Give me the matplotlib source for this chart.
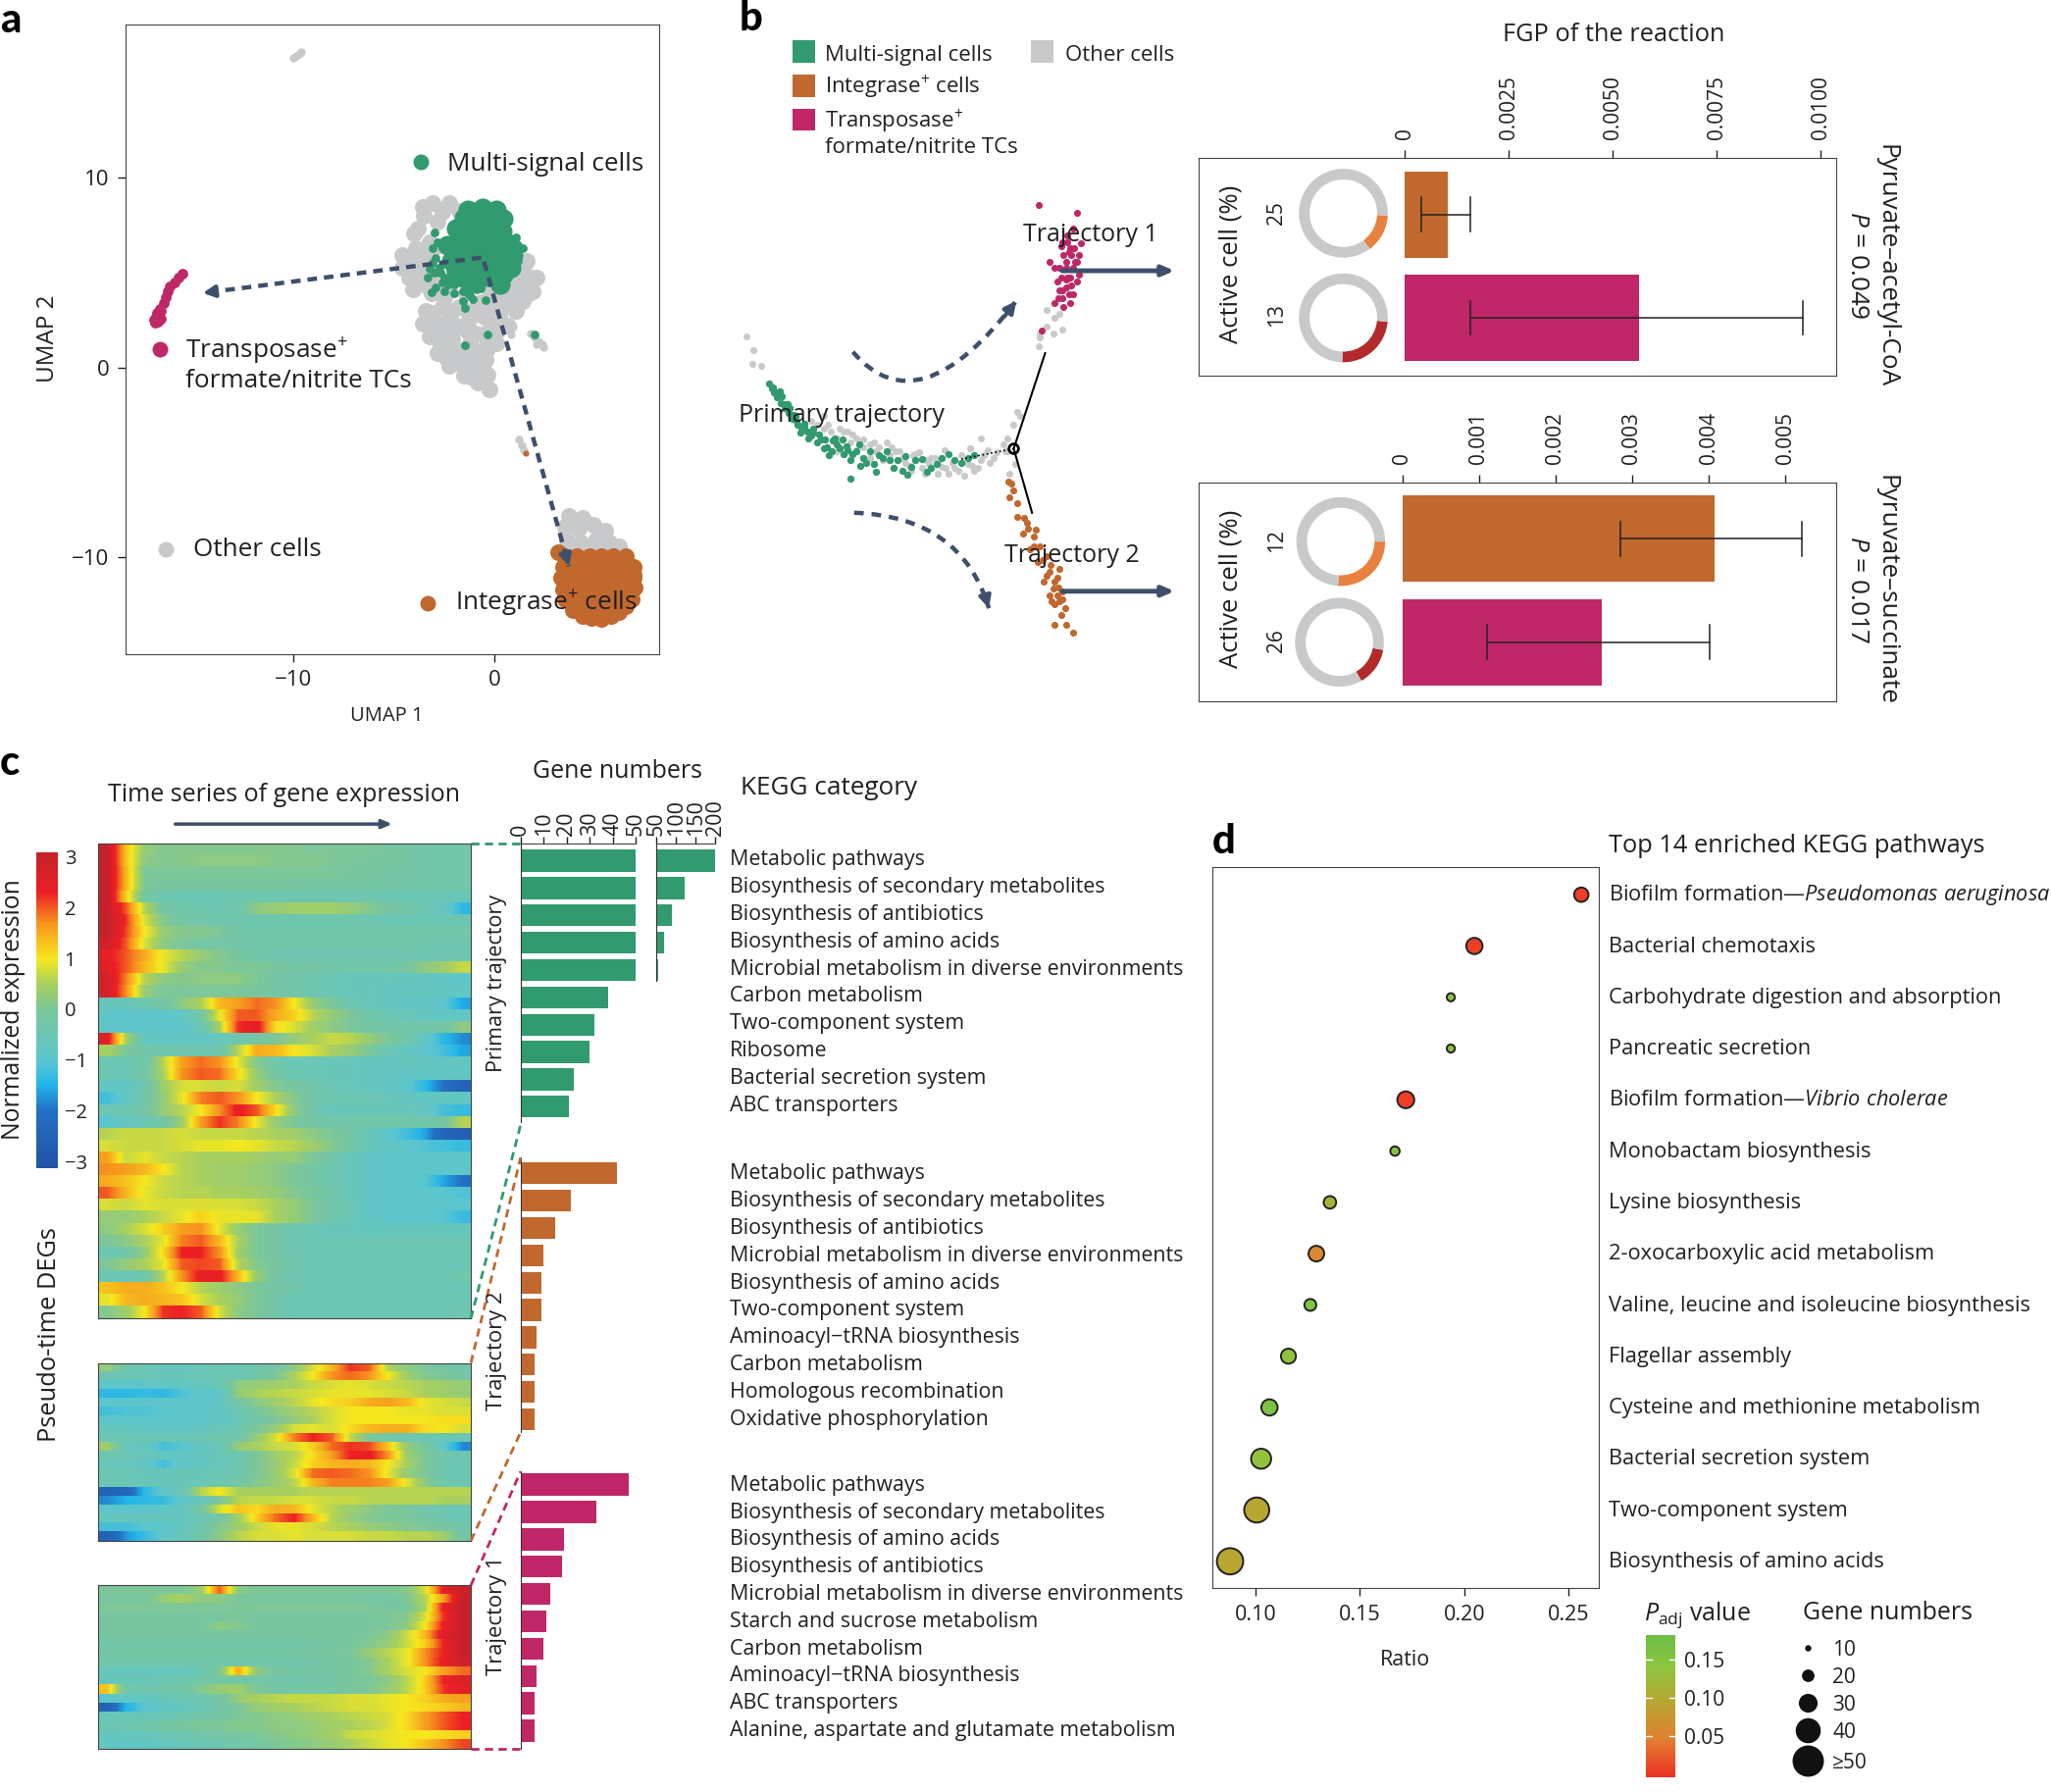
import numpy as np
import matplotlib
matplotlib.use('Agg')
import matplotlib.pyplot as plt
from matplotlib.colors import LinearSegmentedColormap, Normalize
from matplotlib.cm import ScalarMappable
from matplotlib.path import Path
from matplotlib.patches import PathPatch, Rectangle

plt.rcParams['font.family'] = ['Open Sans', 'DejaVu Sans']
plt.rcParams['mathtext.fontset'] = 'custom'
plt.rcParams['mathtext.rm'] = 'Open Sans'
plt.rcParams['mathtext.it'] = 'Open Sans:italic'
plt.rcParams['mathtext.default'] = 'regular'
plt.rcParams['text.color'] = '#231f20'
plt.rcParams['axes.edgecolor'] = '#444444'
plt.rcParams['xtick.color'] = '#231f20'
plt.rcParams['ytick.color'] = '#231f20'

GREEN = '#319a6e'
ORANGE = '#c0682e'
MAGENTA = '#bf2768'
GRAY = '#c8c9cb'
NAVY = '#3d4f6b'

# panel a, UMAP coordinates
gray_x = [-3.57, -3.07, -2.24, -1.74, -2.57, -3.49, -3.82, -2.82, -3.99, -4.57, -3.9, -3.24, -4.57, -3.82, -4.07, -4.24,
          -3.57, -2.9, -2.2, -3.1, -2.5, 2.08, 1.91, 1.58, 1.41, 1.08, 0.75, 0.42, -0.08, 1.3, 0.9, -0.5, -3.4, -3.57,
          -3.24, -2.82, -2.24, -1.5, -0.83, -0.25, -0.33, -0.42, 0.08, 0.66, -0.08, -0.91, -1.74, -2.57, -2.57, -1.74,
          -0.91, -2.41, -1.58, -0.91, -1.58, -0.83, -3.0, -2.2, -1.3, -0.5, 0.2, -2.9, -2.1, -1.2, -0.4, -2.0, -1.2, -0.6,
          -3.4, -2.9, -3.2, -2.6, -3.0, -1.4, -0.8, -0.2, 0.4, 1.0, 1.5, 1.7, 0.9, 0.3, 0.3, -0.4, -1.3, -2.1, -3.1, -3.2,
          -2.8, -2.2, -1.3, -0.5, 0.0, -2.7, -2.0, -1.1, -0.4, -2.4, -1.9, -1.2, -0.6, -1.2, 1.7, 1.2, -3.9, -3.3, -4.4,
          -4.2, -3.7]
gray_y = [8.45, 8.7, 8.7, 8.27, 8.19, 8.01, 7.32, 7.67, 7.06, 5.94, 6.29, 6.63, 5.25, 5.42, 4.13, 4.73,
          4.56, 5.0, 4.4, 3.9, 3.7, 4.73, 4.04, 5.6, 3.52, 3.0, 4.56, 3.7, 3.18, 4.7, 3.7, 3.5, 3.0, 2.31,
          1.62, 0.76, 0.07, -0.45, -0.79, -1.14, -0.36, 0.41, 1.28, 2.23, 2.31, 2.83, 3.18, 3.18, 2.14, 2.14,
          1.8, 1.1, 0.93, 0.41, 0.07, -0.28, 2.6, 2.7, 2.4, 2.7, 2.0, 1.6, 1.5, 1.3, 1.2, 0.4, -0.2, 0.0,
          5.9, 6.4, 5.0, 3.8, 4.4, 3.9, 3.4, 4.1, 4.4, 4.2, 4.3, 3.9, 3.2, 3.0, 2.5, 2.9, 3.0, 3.0, 2.9, 2.3,
          1.9, 1.8, 1.9, 1.8, 1.8, 1.2, 0.8, 0.9, 0.9, 0.5, 0.3, 0.4, -0.6, -0.5, 4.8, 5.0, 4.9, 4.3, 5.6,
          5.2, 6.0]
gray_small_x = [-10.0, -9.85, -9.7, -9.6, 1.8, 2.0, 2.2, 2.4, 2.45, 2.1, 1.2, 1.35, 1.45, 0.91, 0.83]
gray_small_y = [16.35, 16.45, 16.55, 16.65, 1.8, 1.6, 1.4, 1.25, 1.05, 1.25, -3.8, -4.1, -4.35, 2.18, 1.76]
gray_low_x = [3.7, 4.4, 3.5, 4.2, 4.9, 5.5, 3.6, 4.3, 5.0, 5.7, 6.2, 4.0, 5.0, 6.0]
gray_low_y = [-7.8, -7.9, -8.4, -8.5, -8.3, -8.6, -9.1, -9.2, -9.1, -9.2, -9.4, -9.6, -9.6, -9.7]

green_x = [-1.08, -0.08, 0.42, -1.91, -0.91, 0.08, -2.33, -1.41, -0.42, 0.58, 0.91, -2.16, -1.25, -0.25, 0.58, -1.58,
           -0.75, 0.08, 0.83, -0.6, -1.5, -0.5, -1.7, -1.0, 0.3, -1.7, -0.9, -0.2, 0.4, -1.8, -1.1, -0.4, 0.4, 0.5, 0.0,
           -0.9, -1.5, -0.4, -1.3, -0.6, 0.1, 0.9, 0.3, -1.2, -1.9]
green_y = [8.19, 8.19, 7.84, 7.32, 7.32, 7.15, 6.46, 6.46, 6.29, 6.63, 5.94, 5.6, 5.6, 5.42, 5.6, 4.73,
           4.73, 5.08, 5.25, 7.9, 7.9, 6.9, 6.0, 5.0, 6.2, 6.9, 6.7, 6.9, 7.2, 5.4, 5.1, 4.8, 5.0, 5.6, 6.0,
           6.0, 5.9, 7.6, 8.3, 8.4, 8.3, 6.3, 4.4, 4.5, 4.9]
green_small_x = [-2.99, -2.82, -3.07, -2.91, -3.07, -2.74, -3.32, -2.99, -2.49, -2.91, -3.11, -2.49, -1.99, -1.58, -1.08,
                 -1.58, -1.45, -0.42, -0.71, 0.08, -0.33, -1.46, 1.41, 1.08, 1.16, 0.66, -2.3, -1.9, -2.6, -1.3, 2.0,
                 -2.7, -2.2, -2.0, -1.2, -3.2, -0.9]
green_small_y = [7.15, 6.63, 6.29, 5.77, 5.51, 5.25, 4.73, 4.99, 4.73, 4.21, 3.96, 4.04, 4.39, 4.04, 3.61,
                 3.49, 3.14, 3.56, 4.18, 4.56, 1.74, 1.19, 6.32, 6.89, 5.6, 4.73, 4.4, 4.7, 4.5, 3.9, 1.75,
                 5.0, 5.1, 3.9, 3.8, 5.2, 4.1]

magenta_x = [-15.5, -15.7, -15.9, -16.1, -16.2, -16.3, -16.4, -16.6, -16.55, -16.8, -16.9, -16.7, -16.55, -16.75, -16.85]
magenta_y = [4.95, 4.75, 4.5, 4.3, 4.0, 3.7, 3.4, 3.1, 3.0, 2.7, 2.5, 2.4, 2.6, 2.9, 2.35]

orange_x = [3.5, 4.1, 4.7, 5.3, 5.9, 6.5, 3.4, 4.0, 4.6, 5.2, 5.8, 6.4, 6.9, 3.3, 3.9, 4.5, 5.1, 5.7, 6.3, 6.9, 6.9,
            3.4, 3.8, 4.4, 5.0, 5.6, 6.2, 6.8, 6.95, 3.5, 4.0, 4.6, 5.2, 5.8, 6.4, 6.8, 3.9, 4.4, 5.0, 5.6, 6.2, 6.5,
            4.4, 4.8, 5.3, 5.8, 3.15]
orange_y = [-9.95, -9.95, -9.95, -9.95, -9.95, -9.95, -10.5, -10.5, -10.5, -10.5, -10.5, -10.5, -10.5, -11.1, -11.1,
            -11.1, -11.1, -11.1, -11.1, -11.1, -10.9, -11.7, -11.7, -11.7, -11.7, -11.7, -11.7, -11.7, -11.6, -12.2,
            -12.3, -12.3, -12.3, -12.3, -12.3, -12.2, -12.8, -12.9, -12.9, -12.9, -12.9, -12.6, -13.1, -13.2, -13.25,
            -13.1, -9.75]
orange_small_x = [1.57]
orange_small_y = [-4.5]

# panel b, cells along the trajectories
traj_green_x = [590, 592, 594, 597, 600, 603, 606, 610, 613, 617, 620, 625, 628, 632, 636, 640, 645, 650, 655, 660, 668,
                672, 680, 690, 700, 712, 720, 730, 745, 596, 602, 608, 615, 622, 630, 638, 648, 658, 650, 694,
                588, 591, 595, 598, 601, 604, 607, 609, 612, 615, 618, 622, 626, 631, 634, 637, 642, 644, 647, 652,
                657, 662, 665, 670, 675, 678, 683, 686, 692, 697, 705, 709, 716, 725, 735, 740]
traj_green_y = [297, 300, 304, 308, 312, 316, 320, 325, 327, 330, 333, 338, 336, 342, 345, 340, 347, 352, 345, 350, 355,
                348, 352, 360, 352, 358, 350, 352, 348, 299, 309, 318, 324, 331, 343, 335, 344, 356, 366, 363,
                293, 296, 300, 303, 309, 312, 317, 322, 331, 326, 335, 328, 332, 336, 348, 337, 343, 336, 341, 347,
                340, 354, 345, 361, 350, 345, 358, 352, 349, 357, 351, 361, 355, 347, 354, 350]
traj_gray_x = [571, 576, 575, 582, 620, 630, 640, 650, 660, 670, 680, 690, 700, 710, 720, 730, 740, 750, 760, 770, 645,
               655, 665, 675, 685, 695, 705, 715, 725, 735, 745, 755, 775, 780, 769, 794, 800, 810, 805, 795, 800, 812,
               806, 795, 742, 750, 770, 778, 772, 776, 633, 648, 678, 700, 722,
               625, 635, 642, 652, 660, 668, 672, 682, 688, 692, 698, 703, 708, 712, 718, 723, 728, 733, 738, 743, 748,
               752, 757, 762, 767, 697, 707, 717, 737, 655, 665, 640, 630]
traj_gray_y = [257, 268, 278, 280, 322, 328, 335, 338, 342, 345, 348, 350, 352, 355, 357, 358, 355, 352, 350, 345, 330,
               335, 340, 352, 345, 356, 358, 350, 362, 348, 360, 344, 325, 318, 345, 265, 250, 240, 255, 255, 237, 252,
               243, 258, 343, 335, 335, 315, 362, 355, 325, 330, 338, 347, 344,
               325, 330, 328, 332, 336, 338, 342, 342, 345, 354, 348, 346, 352, 350, 352, 358, 354, 360, 352, 356, 358,
               348, 354, 346, 340, 360, 362, 362, 364, 344, 350, 345, 318]
traj_magenta_x = [794, 823, 820, 812, 818, 825, 815, 820, 810, 825, 808, 815, 820, 812, 818, 806, 822, 816, 810, 813, 806,
                  802, 796, 826, 819, 816, 811, 816, 821, 817, 823, 813, 818, 815, 823, 811, 819, 812, 817, 809, 815]
traj_magenta_y = [157, 163, 175, 185, 190, 195, 200, 205, 205, 210, 215, 220, 225, 228, 232, 232, 200, 212, 222, 235, 205,
                  200, 253, 186, 195, 180, 188, 185, 190, 193, 200, 195, 212, 205, 215, 212, 218, 222, 225, 228, 214]
traj_orange_x = [771, 775, 772, 778, 785, 782, 790, 787, 793, 800, 805, 798, 803, 810, 806, 815, 820, 795, 800, 808, 812,
                 792, 802, 806, 811, 783, 786, 790, 797, 802, 806, 809, 812, 808, 804, 814, 810, 778, 773]
traj_orange_y = [368, 375, 380, 385, 400, 408, 410, 420, 430, 440, 450, 445, 432, 460, 478, 478, 484, 418, 425, 442, 452,
                 405, 455, 462, 470, 396, 404, 418, 428, 437, 445, 449, 458, 455, 460, 465, 435, 395, 370]

fgp_ticks_top = [0, 0.0025, 0.005, 0.0075, 0.01]
fgp_labels_top = ['0', '0.0025', '0.0050', '0.0075', '0.0100']
fgp_values_top = [0.00104, 0.00563]
fgp_low_top = [0.0004, 0.00157]
fgp_high_top = [0.00157, 0.00956]
fgp_ticks_low = [0, 0.001, 0.002, 0.003, 0.004, 0.005]
fgp_labels_low = ['0', '0.001', '0.002', '0.003', '0.004', '0.005']
fgp_values_low = [0.00408, 0.0026]
fgp_low_low = [0.00285, 0.00111]
fgp_high_low = [0.00522, 0.00401]
active_arcs = [14, 24, 26, 14]
arc_starts = [-3, -5, 0, -10]
active_labels = ['25', '13', '12', '26']

# panel c, heatmaps in tenths of normalized expression
heat_primary = [
    [30,13, 3, 1, 1, 1, 1, 1, 1, 1, 1, 0, 0, 0, 0,-1,-2,-3,-3,-3],
    [30,13, 2, 1, 1, 2, 2, 2, 2, 1, 1, 1, 0, 0,-1,-1,-2,-3,-3,-3],
    [30,14, 0, 0, 0, 0, 0, 0, 0, 0, 0, 0, 0,-1,-1,-2,-2,-3,-3,-3],
    [30,14, 0,-1,-1,-1,-1,-1,-1,-1,-1,-2,-2,-2,-2,-2,-3,-3,-3,-3],
    [30,12,-2,-4,-5,-5,-5,-4,-4,-4,-4,-4,-4,-4,-4,-5,-5,-5,-5,-6],
    [30,20, 6,-2,-3,-4,-4,-3, 2, 3, 4, 4, 4, 3, 1,-1,-3,-4,-7,-14],
    [30,22, 8, 1,-2,-3,-4,-4,-4,-4,-4,-4,-4,-4,-4,-5,-5,-5,-5,-5],
    [30,21,10, 3, 1, 1, 0,-3,-3,-3,-3,-3,-3,-3,-3,-3,-3,-3,-3,-3],
    [28,20, 8, 2, 0,-2,-2,-3,-3,-3,-3,-3,-3,-3,-3,-3,-3,-4,-4,-4],
    [24,20,15, 9, 6, 3, 1,-1,-3,-4,-4,-4,-4,-4,-4,-4,-4,-4,-4,-4],
    [25,20,14, 9, 3, 1, 1, 0, 0,-1,-2,-2,-3,-3,-3,-3,-1, 2, 4, 7],
    [28,18, 6, 2, 1, 2, 2, 2, 0,-2,-3,-4,-5,-6,-6,-6,-7,-7,-8,-9],
    [28,17, 3, 0, 0, 0, 0, 0,-1,-2,-3,-4,-5,-6,-6,-7,-7,-7,-8,-8],
    [-6,-6,-4,-2, 2, 5,14,16,19,17,10, 3, 0,-4,-6,-7,-8,-8,-9,-16],
    [-9,-9,-9,-9,-8,-2, 9,20,20,15,12, 6, 3, 0,-3,-5,-6,-7,-8,-8],
    [-9,-9,-9,-9,-9,-5, 5,22,25,11, 8, 4, 2, 0,-2,-3,-3,-3,-2, 2],
    [25, 5,-7,-8,-8,-8,-6,-4,-2, 0, 3, 5, 7, 6, 3, 0,-3,-8,-14,-18],
    [ 5, 0,-3,-4,-4,-4,-4, 6,15,14,10, 8, 5, 3, 0,-5,-7,-9,-12,-16],
    [-5,-5,-3, 6,16,19,17, 9, 1,-3,-5,-5,-6,-6,-7,-7,-7,-7,-8,-8],
    [-5,-5,-2, 5,17,20,19,11, 3,-2,-5,-5,-6,-6,-7,-7,-8,-8,-8,-8],
    [-8,-8,-4, 4, 8, 8, 7, 8, 4, 1,-1,-3,-5,-6,-7,-8,-9,-14,-20,-25],
    [-12,-8,-3, 3, 9,18,20,17,10, 5, 1,-3,-4,-5,-5,-6,-7,-8,-8,-8],
    [-5,-5,-2, 3, 6,10,17,24,20,11, 2,-3,-6,-6,-6,-6,-6,-7,-12,-13],
    [-10,-7,-5,-2, 4,16,22,18, 9, 3, 0,-2,-3,-3,-3,-3,-3,-3,-2, 6],
    [ 6, 7, 7, 7, 8, 7, 7, 7, 6, 5, 4, 2, 0,-2,-6,-9,-12,-16,-24,-26],
    [ 8, 7, 7, 7, 8, 9, 9,10, 9, 7, 6, 4, 1,-2,-6,-8,-9,-11,-12,-13],
    [16, 7, 9, 7, 6, 5, 5, 5, 4, 3, 3, 0,-3,-6,-8,-9,-9,-9,-9,-9],
    [17,16,14,10, 6, 5, 4, 4, 3, 2, 0,-2,-4,-6,-8,-9,-9,-9,-9,-9],
    [15,13,10, 7, 6, 5, 4, 4, 3, 2, 0,-2,-4,-6,-8,-9,-9,-10,-16,-20],
    [20,14, 9, 7, 6, 6, 5, 5, 4, 3, 1,-1,-3,-6,-8,-9,-9,-9,-10,-11],
    [ 8, 7, 9, 8, 8, 8, 8, 8, 7, 5, 3, 0,-3,-5,-8,-9,-9,-9,-9,-10],
    [ 3, 3, 5, 7, 9,12, 9, 9, 9, 5, 3, 0,-3,-5,-8,-9,-9,-9,-10,-13],
    [ 2, 5, 8,12,16,17, 9, 3, 0,-2,-4,-5,-6,-6,-7,-7,-7,-7,-7,-7],
    [ 0, 2, 5, 9,18,20,14, 5, 0,-2,-4,-5,-5,-5,-5,-5,-5,-5,-5,-5],
    [-5,-3, 3,11,23,23,17, 4, 0,-2,-4,-5,-5,-5,-5,-5,-5,-5,-5,-5],
    [ 0, 3, 5, 9,20,21,20, 6, 1,-1,-3,-5,-5,-5,-5,-5,-5,-5,-5,-5],
    [-5,-5,-3, 6,17,24,24,14, 3,-2,-4,-5,-5,-5,-5,-5,-5,-5,-5,-3],
    [13,15,15,13,10, 6, 4, 2, 0,-2,-3,-5,-5,-5,-5,-5,-5,-5,-5,-5],
    [ 9,14,15,14,13, 8, 5, 3, 0,-3,-5,-5,-5,-5,-5,-5,-5,-5,-5,-5],
    [ 1, 4,10,22,23,20, 8, 2, 0,-3,-5,-5,-5,-5,-5,-5,-5,-5,-5,-4],
]
heat_traj2 = [
    [ 3,-3,-5,-7,-7,-6,-5,-5,-4,-2, 2, 8,14,22,20, 6, 2, 0,-2,-3],
    [-4,-5,-5,-6,-6,-5,-5,-5,-3, 0, 5,10,17,19,17,10, 4, 1, 0,-2],
    [-9,-9,-9,-8,-8,-7,-5, 2, 3, 4, 5, 7, 8, 9, 8, 7, 6, 5, 4, 3],
    [-14,-14,-13,-14,-11,-9,-9, 3, 5, 6, 7, 8, 9, 9, 9, 8, 7, 5, 4, 3],
    [-9,-9,-9,-9,-9,-9,-8,-2, 2, 4, 6, 9,11,12,15,16,14, 9, 8, 7],
    [-12,-11,-11,-10,-9,-9,-8,-5,-1, 2, 4, 6, 8,10,10,10, 9, 9, 8, 8],
    [-9,-9,-9,-9,-9,-9,-8,-6,-3, 0, 3, 5, 8,10,10,10,10,10,11,11],
    [-7,-7,-8,-8,-8,-7,-6,-4, 0, 3, 8, 9, 8,11,14,15,15,11,10, 8],
    [-5,-5,-5,-5,-5,-5,-4,-3, 3, 8,18,23,20, 7, 0,-3,-5,-5,-5,-5],
    [ 4,-6,-7,-12,-10,-7,-6, 3, 5, 7, 8,12,19,22,21,13, 3,-1,-9,-18],
    [-4,-5,-6,-7,-8,-7,-6,-4, 0, 4, 6,11,16,23,24,17, 4, 0,-3,-5],
    [-6,-6,-8,-12,-8,-7,-6,-4, 0, 3, 7,12,14,15,14,10, 5, 0,-4,-5],
    [-5,-5,-6,-6,-6,-6,-5,-4, 0, 3, 8,19,20,19,17, 9, 3, 0,-4,-5],
    [-5,-5,-6,-6,-6,-5,-5,-2, 1, 3, 6,14,18,18,18,16, 9, 2,-3,-5],
    [-25,-24,-14,-9,-5, 6,10, 5, 5, 5, 5, 6, 6, 6, 6, 6, 6, 6, 6, 6],
    [-18,-15,-14,-13,-9,-6, 0, 6, 7, 7, 8, 8, 7, 7, 6, 6, 6, 6, 5, 5],
    [-9,-9,-9,-9,-7,-2, 8,13,11,15,14, 9, 6, 4, 2, 0,-1,-3,-4,-5],
    [-7,-7,-7,-7,-7,-5,-2, 4,12,19,23,14, 6, 3, 1, 0, 0,-2,-4,-5],
    [-12,-12,-10,-9,-7,-4, 1, 4, 7, 9, 9, 8, 6, 5, 3, 2, 1, 0,-1,-3],
    [-25,-17,-13,-9,-6,-3, 2, 6, 8, 8, 9, 8, 8, 8, 7, 7, 6, 6, 4,-2],
]
heat_traj1 = [
    [ 0, 0, 0, 0, 0, 3,20, 2, 0, 0, 0, 0, 0, 0, 0, 0, 1, 8,24,30],
    [-1,-1,-1, 3, 5, 2, 2, 0,-1,-1,-1,-1,-1,-1,-2,-2, 0, 6,16,30],
    [ 0, 0, 0, 0, 0, 0, 0, 0, 0, 0, 0, 0, 0, 0, 0,-1,-1, 5,24,30],
    [-1,-1,-1,-1,-1,-1,-1, 0,-1,-1,-1,-1,-1,-1,-1, 0, 1, 8,22,30],
    [-1,-1,-1,-1,-1,-1, 2, 1,-1,-1,-1,-1,-1,-1,-1, 0, 2,10,24,30],
    [-1,-1,-1,-1,-1,-1,-1,-1,-1,-1,-1,-1,-1,-1, 0, 2, 7,14,26,30],
    [-3,-3,-3,-3,-3,-3,-3,-3,-3,-3,-3,-2,-2,-1, 1, 3, 7,12,23,30],
    [-2,-2,-2,-2,-2,-2,-2,-2,-2,-2,-2,-1,-1, 0, 3, 6, 9,17,23,30],
    [-3,-3,-3,-3,-3,-3,-3,-3,-3,-3,-3,-3,-2,-1, 1, 5, 9,17,24,28],
    [-7,-7,-7,-7,-7,-5, 0,15, 2,-1,-2,-2,-2,-1, 1, 5, 8,10,16,19],
    [-6,-6,-6,-5,-4,-3,-2,-2,-2,-3,-3,-3,-2,-1, 0, 2, 6,12,23,26],
    [13,-3,-4,-3,-3, 1, 3, 4, 0,-2,-2,-2,-2,-1, 0, 3, 6,12,22,25],
    [-10,-8,-8,-6,-5,-4,-2, 3, 5, 6, 7, 7, 7, 8, 8, 9,10,12,15,16],
    [-25,-15,-10,-8,-7,-5,-3, 0, 3, 4, 5, 6, 7, 8, 8, 9,10,11,12,14],
    [-6,-6,-6,-5,-4,-3,-2, 0, 1, 2, 3, 4, 5, 6, 7, 8,11,16,20,23],
    [-5,-4,-3,-2,-1, 0, 0, 1, 1, 2, 2, 3, 4, 5, 6, 8,11,16,20,23],
    [-7,-7,-6,-5,-4,-3,-2,-1, 0, 1, 2, 3, 4, 7, 8, 9,10,10,11,12],
    [-8,-8,-8,-7,-6,-5,-4,-3,-2, 0, 1, 2, 3, 5, 7, 9,10,13,17,21],
]
heat_cols = ['#2353a5', '#2370c4', '#22b5e8', '#5cc6cf', '#7cc79a', '#a8d05f', '#f6e81e', '#f7941e', '#ed2024', '#c4222c']
heat_stops = [-3.13, -2.0, -1.5, -1.0, 0.0, 0.5, 1.0, 1.7, 2.3, 3.08]

primary_names = ['Metabolic pathways', 'Biosynthesis of secondary metabolites', 'Biosynthesis of antibiotics',
                 'Biosynthesis of amino acids', 'Microbial metabolism in diverse environments', 'Carbon metabolism',
                 'Two-component system', 'Ribosome', 'Bacterial secretion system', 'ABC transporters']
primary_low = [50, 50, 50, 50, 50, 38, 32, 30, 23, 21]
primary_high = [200, 122, 90, 68, 53]
traj2_names = ['Metabolic pathways', 'Biosynthesis of secondary metabolites', 'Biosynthesis of antibiotics',
               'Microbial metabolism in diverse environments', 'Biosynthesis of amino acids', 'Two-component system',
               'Aminoacyl\u2212tRNA biosynthesis', 'Carbon metabolism', 'Homologous recombination',
               'Oxidative phosphorylation']
traj2_values = [42, 22, 15, 10, 9, 9, 7, 6, 6, 6]
traj1_names = ['Metabolic pathways', 'Biosynthesis of secondary metabolites', 'Biosynthesis of amino acids',
               'Biosynthesis of antibiotics', 'Microbial metabolism in diverse environments',
               'Starch and sucrose metabolism', 'Carbon metabolism', 'Aminoacyl\u2212tRNA biosynthesis',
               'ABC transporters', 'Alanine, aspartate and glutamate metabolism']
traj1_values = [47, 33, 19, 18, 13, 11, 10, 7, 6, 6]

# panel d
kegg_names = ['Biofilm formation\u2014' + r'$\it{Pseudomonas\ aeruginosa}$',
              'Bacterial chemotaxis', 'Carbohydrate digestion and absorption', 'Pancreatic secretion',
              'Biofilm formation\u2014' + r'$\it{Vibrio\ cholerae}$',
              'Monobactam biosynthesis', 'Lysine biosynthesis', '2-oxocarboxylic acid metabolism',
              'Valine, leucine and isoleucine biosynthesis', 'Flagellar assembly',
              'Cysteine and methionine metabolism', 'Bacterial secretion system', 'Two-component system',
              'Biosynthesis of amino acids']
kegg_ratio = [0.2562, 0.2049, 0.1936, 0.1936, 0.172, 0.1668, 0.1356, 0.1291, 0.1262, 0.1157, 0.1066, 0.1026, 0.1005, 0.0877]
kegg_genes = [23, 26, 13, 13, 27, 15, 20, 25, 19, 24, 26, 32, 40, 42]
kegg_padj = [0.005, 0.005, 0.15, 0.15, 0.005, 0.145, 0.11, 0.055, 0.155, 0.135, 0.16, 0.135, 0.095, 0.095]
size_legend = [10, 20, 30, 40, 50]
size_labels = ['10', '20', '30', '40', '\u226550']

W, H = 1568, 1370
fig = plt.figure(figsize=(20.91, 18.27), dpi=100)


def box(l, t, r, b, **kw):
    return fig.add_axes([l / W, 1 - b / H, (r - l) / W, (b - t) / H], **kw)


# overlay in picture units, for labels and arrows
ov = box(0, 0, W, H, zorder=10)
ov.set_xlim(0, W)
ov.set_ylim(H, 0)
ov.axis('off')
ov.patch.set_alpha(0)


def T(x, y, s, size=18, **kw):
    kw.setdefault('va', 'center')
    if 'rotation' not in kw:
        y = y + 1.5
    ov.text(x, y, s, fontsize=size, **kw)


def arrow_head(x0, y0, x1, y1):
    ov.annotate('', xy=(x1, y1), xytext=(x0, y0),
                arrowprops=dict(arrowstyle='-|>,head_length=0.7,head_width=0.35', color=NAVY, lw=3, shrinkA=0, shrinkB=0))


def dashed_line(xs, ys):
    ov.plot(xs, ys, color=NAVY, lw=3.2, dashes=(2.2, 1.6), solid_capstyle='butt')
    arrow_head(xs[-1] + (xs[-2] - xs[-1]) * 0.04, ys[-1] + (ys[-2] - ys[-1]) * 0.04, xs[-1], ys[-1])


def dashed_curve(p0, p1, p2):
    ov.add_patch(PathPatch(Path([p0, p1, p2], [Path.MOVETO, Path.CURVE3, Path.CURVE3]), fill=False,
                           ec=NAVY, lw=3.2, ls=(0, (2.2, 1.8))))
    arrow_head(p2[0] - (p2[0] - p1[0]) * 0.12, p2[1] - (p2[1] - p1[1]) * 0.12, p2[0], p2[1])


for letter, x, y in [('a', 0, 14), ('b', 565, 13), ('c', 0, 582), ('d', 927, 642)]:
    T(x, y, letter, size=30, family='Lato', fontweight='black', color='black')

# ---- panel a
axa = box(96, 19, 504, 500)
axa.set_xlim(-18.31, 8.18)
axa.set_ylim(-15.1, 18.07)
axa.scatter(gray_x, gray_y, s=150, c=GRAY, lw=0)
axa.scatter(gray_small_x, gray_small_y, s=36, c=GRAY, lw=0)
axa.scatter(gray_low_x, gray_low_y, s=150, c=GRAY, lw=0)
axa.scatter(green_small_x, green_small_y, s=40, c=GREEN, lw=0)
axa.scatter(green_x, green_y, s=210, c=GREEN, lw=0)
axa.scatter(magenta_x, magenta_y, s=60, c=MAGENTA, lw=0)
axa.scatter(orange_x, orange_y, s=150, c=ORANGE, lw=0)
axa.scatter(orange_small_x, orange_small_y, s=20, c=ORANGE, lw=0)
axa.set_xticks([-10, 0])
axa.set_yticks([-10, 0, 10])
axa.tick_params(labelsize=16, length=6, width=1, pad=6)
dashed_line([368, 155], [197, 224])
dashed_line([370, 435], [200, 433])
T(296, 546, 'UMAP 1', size=14.5, ha='center')
T(37, 259, 'UMAP 2', size=17.5, rotation=90, ha='center')
for x, y, c in [(322, 124, GREEN), (122, 267, MAGENTA), (127, 420, GRAY), (327, 461, ORANGE)]:
    ov.plot([x], [y], 'o', color=c, ms=11.5, mew=0)
T(342, 124, 'Multi-signal cells', size=18.8)
T(142, 267, 'Transposase$^{+}$', size=18.8)
T(142, 290, 'formate/nitrite TCs', size=18.8)
T(148, 419, 'Other cells', size=18.8)
T(348, 460, 'Integrase$^{+}$ cells', size=18.8)

# ---- panel b trajectory
axt = box(560, 140, 840, 500)
axt.set_xlim(560, 840)
axt.set_ylim(500, 140)
axt.axis('off')
axt.scatter(traj_gray_x, traj_gray_y, s=26, c=GRAY, lw=0)
axt.scatter(traj_green_x, traj_green_y, s=28, c=GREEN, lw=0)
axt.scatter(traj_magenta_x, traj_magenta_y, s=26, c=MAGENTA, lw=0)
axt.scatter(traj_orange_x, traj_orange_y, s=26, c=ORANGE, lw=0)
ov.plot([775, 799], [343, 270], color='black', lw=1.5)
ov.plot([775, 789], [343, 392], color='black', lw=1.5)
ov.plot([775, 735], [343, 351], color='black', lw=1.2, ls=':')
ov.plot([775], [343], 'o', mfc='none', mec='black', ms=7, mew=2)
dashed_curve((652, 269), (702, 328), (777, 230))
dashed_curve((653, 392), (735, 395), (756, 465))
for y in (207, 452):
    ov.annotate('', xy=(898, y), xytext=(812, y),
                arrowprops=dict(arrowstyle='-|>,head_length=0.7,head_width=0.3', color=NAVY, lw=3.5, shrinkA=0, shrinkB=0))
T(782, 178, 'Trajectory 1')
T(565, 316, 'Primary trajectory')
T(768, 423, 'Trajectory 2')
for x, y, c in [(606, 31, GREEN), (606, 57, ORANGE), (606, 83, MAGENTA), (788, 31, GRAY)]:
    ov.add_patch(Rectangle((x, y), 17, 17, color=c, lw=0))
T(631, 41, 'Multi-signal cells', size=16)
T(631, 65, 'Integrase$^{+}$ cells', size=16)
T(631, 91, 'Transposase$^{+}$', size=16)
T(631, 111, 'formate/nitrite TCs', size=16)
T(814, 41, 'Other cells', size=16)
T(1234, 25, 'FGP of the reaction', size=18.3, ha='center')


def fgp_panel(t, b, x0, px, ticks, labels, values, low, high):
    ax = box(916, t, 1404, b)
    ax.set_xlim((916 - x0) / px, (1404 - x0) / px)
    ax.set_ylim(b - t, 0)
    for i, c in enumerate([ORANGE, MAGENTA]):
        y = [10 + 33, 89 + 33][i]
        ax.barh(y, values[i], height=66, color=c)
        ax.plot([low[i], high[i]], [y, y], color='#222222', lw=1.1)
        for v in (low[i], high[i]):
            ax.plot([v, v], [y - 13, y + 13], color='#222222', lw=1.1)
    ax.set_yticks([])
    ax.xaxis.tick_top()
    ax.set_xticks(ticks)
    ax.set_xticklabels(labels, rotation=90)
    ax.tick_params(axis='x', labelsize=15, length=6, width=1, pad=8)
    return ax


fgp_panel(121, 287, 1074, 31800, fgp_ticks_top, fgp_labels_top, fgp_values_top, fgp_low_top, fgp_high_top)
fgp_panel(369, 536, 1072, 58600, fgp_ticks_low, fgp_labels_low, fgp_values_low, fgp_low_low, fgp_high_low)

donuts = [(1027, 163, '#e8803f'), (1027, 243, '#b22a2a'), (1025, 414, '#e8803f'), (1024, 491, '#b22a2a')]
for i, (cx, cy, c) in enumerate(donuts):
    axd = box(cx - 36, cy - 36, cx + 36, cy + 36)
    axd.pie([active_arcs[i], 100 - active_arcs[i]], colors=[c, GRAY], startangle=arc_starts[i], counterclock=False,
            radius=1, wedgeprops=dict(width=0.24))
    axd.set_xlim(-1.06, 1.06)
    axd.set_ylim(-1.06, 1.06)
    axd.patch.set_alpha(0)

T(941, 202, 'Active cell (%)', rotation=90, ha='center', size=18.5)
T(941, 450, 'Active cell (%)', rotation=90, ha='center', size=18.5)
for y, s in zip([163, 241, 413, 490], active_labels):
    T(976, y, s, size=15, rotation=90, ha='center')
T(1442, 203, 'Pyruvate\u2013acetyl-CoA', rotation=-90, ha='center', size=18.8)
T(1420, 203, r'$\it{P}$ = 0.049', rotation=-90, ha='center', size=18.8)
T(1442, 451, 'Pyruvate\u2013succinate', rotation=-90, ha='center', size=18.8)
T(1420, 451, r'$\it{P}$ = 0.017', rotation=-90, ha='center', size=18.8)

# ---- panel c heatmaps, one strip per row so the gene rows stay sharp
cmap = LinearSegmentedColormap.from_list('expr', [((v + 3.13) / 6.21, c) for v, c in zip(heat_stops, heat_cols)])
norm = Normalize(-3.13, 3.08)
for rows, t, b in [(heat_primary, 645, 1008), (heat_traj2, 1042, 1178), (heat_traj1, 1212, 1337)]:
    axh = box(75, t, 360, b)
    for i, row in enumerate(rows):
        axh.imshow(np.array([row]) / 10, cmap=cmap, norm=norm, aspect='auto', interpolation='bilinear',
                   extent=(0, len(row), i + 1, i))
    axh.set_xlim(0, len(rows[0]))
    axh.set_ylim(len(rows), 0)
    axh.set_xticks([])
    axh.set_yticks([])

cax = box(28, 652, 44, 893)
cb = fig.colorbar(ScalarMappable(norm=norm, cmap=cmap), cax=cax)
cb.outline.set_visible(False)
cb.set_ticks([-3, -2, -1, 0, 1, 2, 3])
cb.ax.tick_params(length=0, labelsize=14.5, pad=5)
T(10, 772, 'Normalized expression', rotation=90, ha='center', size=17.8)
T(38, 1020, 'Pseudo-time DEGs', rotation=90, ha='center', size=18.3)
T(217, 606, 'Time series of gene expression', ha='center', size=18)
ov.annotate('', xy=(300, 630), xytext=(134, 630),
            arrowprops=dict(arrowstyle='-|>,head_length=0.6,head_width=0.25', color=NAVY, lw=2.5, shrinkA=0, shrinkB=0))
T(472, 588, 'Gene numbers', ha='center', size=18)
T(566, 601, 'KEGG category', size=18.8)


def gene_bars(l, r, t, b, c0, values, xmin, xmax, color):
    ax = box(l, t, r, b)
    ax.set_xlim(xmin, xmax)
    ax.set_ylim((b - c0) / 20.9, (t - c0) / 20.9)
    ax.barh(range(len(values)), [v - xmin for v in values], height=0.8, color=color, left=xmin)
    ax.set_xticks([])
    ax.set_yticks([])
    ax.patch.set_alpha(0)
    for s in ['right', 'bottom', 'top']:
        ax.spines[s].set_visible(False)
    ax.spines['left'].set_color('#333333')
    return ax


ax1 = gene_bars(398, 486, 645, 858, 658, primary_low, 0, 50, GREEN)
ax2 = gene_bars(502, 547, 645, 750, 658, primary_high, 50, 200, GREEN)
for ax, ticks in [(ax1, [0, 10, 20, 30, 40, 50]), (ax2, [50, 100, 150, 200])]:
    ax.spines['top'].set_visible(True)
    ax.xaxis.tick_top()
    ax.set_xticks(ticks)
    ax.set_xticklabels([str(v) for v in ticks], rotation=90)
    ax.tick_params(axis='x', labelsize=15.5, length=5, width=1, pad=1)
gene_bars(398, 486, 885, 1095, 897, traj2_values, 0, 50, ORANGE)
gene_bars(398, 486, 1125, 1337, 1135, traj1_values, 0, 50, MAGENTA)

for names, y0 in [(primary_names, 656), (traj2_names, 896), (traj1_names, 1134)]:
    for i, name in enumerate(names):
        T(558, y0 + i * 20.85, name, size=15.4)
T(380, 752, 'Primary trajectory', rotation=90, ha='center', size=15.5)
T(380, 1033, 'Trajectory 2', rotation=90, ha='center', size=15.8)
T(380, 1235, 'Trajectory 1', rotation=90, ha='center', size=15.8)

for (x0, y0, x1, y1), c in [((360, 645, 398, 645), GREEN), ((360, 1008, 398, 860), GREEN),
                            ((360, 1042, 398, 885), ORANGE), ((360, 1178, 398, 1095), ORANGE),
                            ((360, 1212, 398, 1125), MAGENTA), ((360, 1337, 398, 1337), MAGENTA)]:
    ov.plot([x0, x1], [y0, y1], color=c, lw=2, dashes=(3, 2))

# ---- panel d
padj_cmap = LinearSegmentedColormap.from_list('padj', [(0, '#ee3124'), (0.27, '#e08030'), (0.55, '#b5a832'),
                                                       (0.78, '#8dc63f'), (1, '#6cbe45')])
padj_norm = Normalize(-0.004, 0.182)
axk = box(927, 663, 1222, 1214)
axk.set_xlim(0.0793, 0.2644)
axk.set_ylim(13.52, -0.536)
axk.scatter(kegg_ratio, range(14), s=[(0.46 * g) ** 2 for g in kegg_genes], c=kegg_padj, cmap=padj_cmap, norm=padj_norm,
            edgecolors='#222222', linewidths=1.4, zorder=3)
axk.set_yticks([])
axk.set_xticks([0.10, 0.15, 0.20, 0.25])
axk.set_xticklabels(['0.10', '0.15', '0.20', '0.25'])
axk.tick_params(labelsize=15.5, length=6, width=1, pad=6)
T(1074, 1268, 'Ratio', size=15.5, ha='center')
for i, name in enumerate(kegg_names):
    T(1230, 683 + i * 39.2, name, size=15.7)
T(1230, 645, 'Top 14 enriched KEGG pathways', size=18.3)

T(1257, 1233, r'$\it{P}_{\rm{adj}}$ value', size=18)
pax = box(1258, 1250, 1281, 1359)
pcb = fig.colorbar(ScalarMappable(norm=padj_norm, cmap=padj_cmap), cax=pax)
pcb.outline.set_visible(False)
pcb.set_ticks([0.05, 0.10, 0.15])
pcb.set_ticklabels(['0.05', '0.10', '0.15'])
pcb.ax.tick_params(labelsize=15, length=0, pad=6)
for v in pcb.get_ticks():
    pax.plot([0, 0.22], [v, v], color='white', lw=1)
    pax.plot([0.78, 1], [v, v], color='white', lw=1)

T(1378, 1232, 'Gene numbers', size=18)
for y, g, lab in zip([1260, 1281, 1302, 1323, 1346], size_legend, size_labels):
    ov.scatter([1382], [y], s=(0.46 * g) ** 2, c='#111111', lw=0)
    T(1401, y, lab, size=15)

fig.savefig('out.png', dpi=100)
